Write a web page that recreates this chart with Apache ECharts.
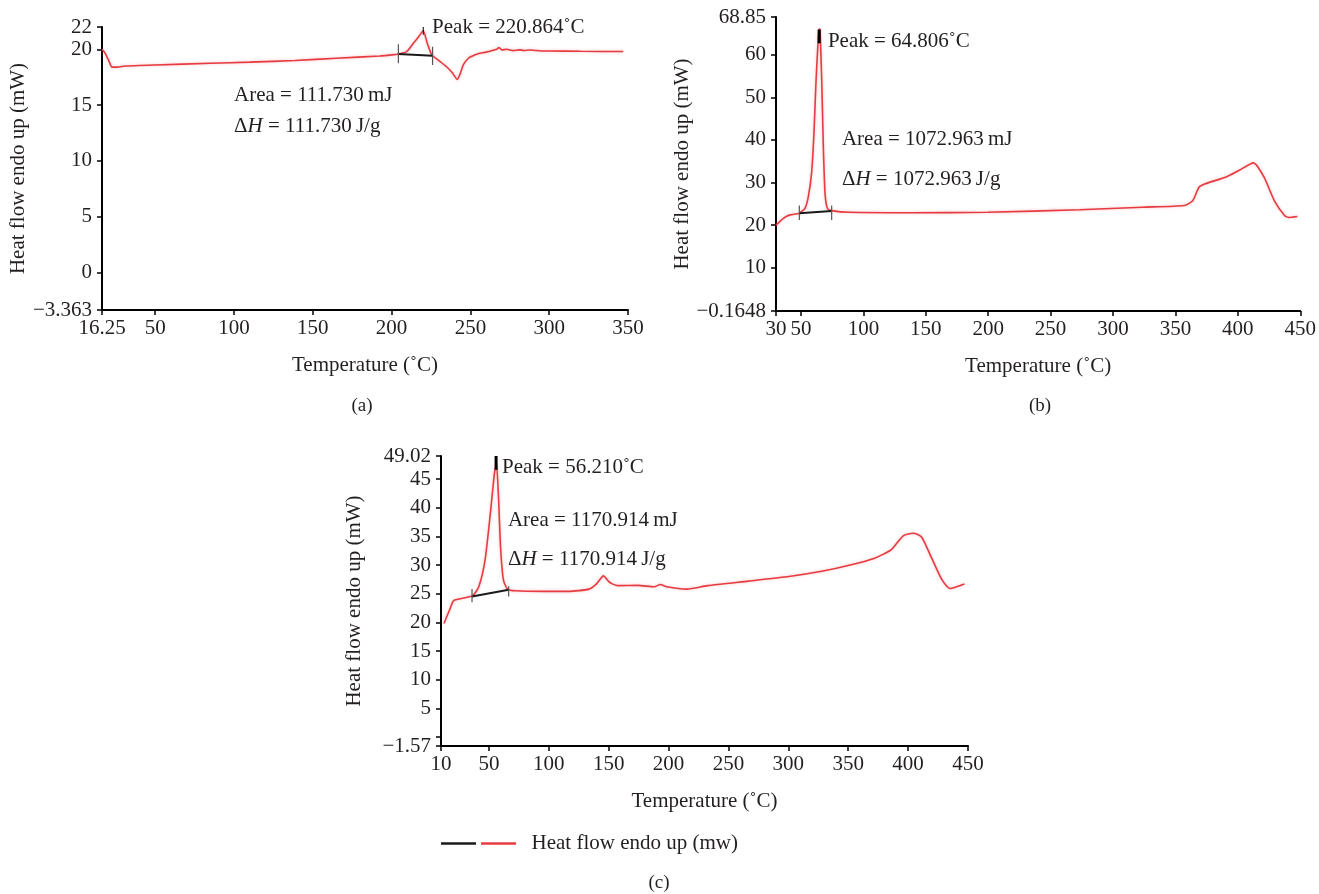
<!DOCTYPE html>
<html>
<head>
<meta charset="utf-8">
<script src="https://cdn.jsdelivr.net/npm/echarts@6/dist/echarts.min.js"></script>
<style>
html, body { margin: 0; padding: 0; background: #fff; }
#chart { width: 1319px; height: 894px; }
</style>
</head>
<body>
<div id="chart"></div>
<script>
// ---- panel (a) ----
const tempA = [16.25, 18, 20.5, 22.6, 26, 31, 50, 85, 110, 138.7, 165, 192.4, 200, 204.3, 209.6, 213.8, 217, 220.1, 222.5, 225.5, 229.6, 234.9, 238.5, 241.7, 243.5, 245.5, 248.7, 252, 256.1, 260, 263, 266.7, 268, 270, 273, 277.2, 281, 284, 287.8, 291, 296.3, 300, 320, 347]
const flowA = [20.0, 19.7, 19.0, 18.4, 18.4, 18.5, 18.6, 18.75, 18.85, 19.0, 19.2, 19.4, 19.5, 19.58, 19.8, 20.54, 21.1, 21.67, 20.6, 19.5, 19.04, 18.44, 17.9, 17.3, 17.8, 18.6, 19.2, 19.45, 19.64, 19.75, 19.85, 20.0, 20.15, 19.95, 20.0, 19.88, 19.95, 19.9, 19.94, 19.9, 19.85, 19.85, 19.82, 19.8]
const baseA = [[204.3, 19.58], [226.0, 19.43]]
const endTicksA = [[[204.3, 18.75], [204.3, 20.45]], [[226.0, 18.6], [226.0, 20.24]]]
const peakTickA = [[220.1, 21.3], [220.1, 22.0]]
const xTicksA = [16.25, 50, 100, 150, 200, 250, 300, 350]
const yTicksA = [-3.363, 0, 5, 10, 15, 20, 22]
const noteAtA = [[225.7, 22.0], [100, 15.9], [100, 13.04]]
const noteTextA = ['Peak = 220.864˚C', 'Area = 111.730\u2009mJ', '{t|Δ}{i|H}{t| = 111.730\u2009J/g}']

// ---- panel (b) ----
const tempB = [30, 35.9, 41.2, 48.7, 53.2, 55.9, 58.5, 60.4, 62.0, 63.9, 64.7, 65.3, 66.7, 68.0, 69.3, 71.2, 74.7, 88.7, 139, 199.4, 273, 323.6, 357.1, 363.8, 368.9, 373.9, 390.7, 400.7, 412.5, 420.9, 429.3, 437.6, 441, 447.7]
const flowB = [20.0, 21.6, 22.4, 22.8, 23.95, 26.7, 32.2, 41.5, 53.3, 64.2, 66.0, 65.8, 53.3, 37.6, 27.4, 23.9, 23.4, 23.0, 22.9, 23.0, 23.6, 24.2, 24.6, 25.7, 28.9, 29.7, 31.3, 32.8, 34.6, 31.3, 25.7, 22.2, 21.8, 22.0]
const baseB = [[48.7, 22.8], [74.6, 23.3]]
const endTicksB = [[[48.7, 21.2], [48.7, 24.6]], [[74.6, 21.2], [74.6, 24.6]]]
const peakTickB = [[64.6, 62.7], [64.6, 65.9]]
const xTicksB = [30, 50, 100, 150, 200, 250, 300, 350, 400, 450]
const yTicksB = [-0.1648, 10, 20, 30, 40, 50, 60, 68.85]
const noteAtB = [[71.6, 63.0], [82.8, 40.0], [82.8, 30.6]]
const noteTextB = ['Peak = 64.806˚C', 'Area = 1072.963\u2009mJ', '{t|Δ}{i|H}{t| = 1072.963\u2009J/g}']

// ---- panel (c) ----
const tempC = [12.5, 17.2, 20.6, 28, 36.6, 41.7, 46.8, 51.2, 54.6, 56.3, 58, 59.7, 62.1, 65.5, 72.3, 96.2, 116.6, 133.6, 139.8, 145.6, 150.7, 157.5, 174.5, 188.1, 193.2, 198.4, 215.4, 232.4, 266.5, 300.5, 327.8, 351.6, 372, 385.7, 395.9, 404.4, 411.2, 419.7, 428.3, 435, 440.2, 447]
const flowC = [19.8, 22.2, 23.8, 24.2, 24.65, 26.3, 30.9, 39.0, 46.0, 47.7, 41.9, 33.2, 27.4, 25.8, 25.5, 25.4, 25.4, 25.8, 26.7, 28.1, 27.0, 26.4, 26.45, 26.2, 26.6, 26.2, 25.8, 26.4, 27.2, 28.0, 28.9, 30.0, 31.2, 32.65, 35.1, 35.55, 34.9, 31.2, 27.4, 25.9, 26.2, 26.7]
const baseC = [[35.9, 24.5], [66.5, 25.7]]
const endTicksC = [[[35.9, 23.5], [35.9, 25.8]], [[66.5, 24.5], [66.5, 26.3]]]
const peakTickC = [[56.0, 46.6], [56.0, 49.0]]
const xTicksC = [10, 50, 100, 150, 200, 250, 300, 350, 400, 450]
const yTicksC = [-1.57, 0, 5, 10, 15, 20, 25, 30, 35, 40, 45, 49.02]
const yLabelsC = [-1.57, 5, 10, 15, 20, 25, 30, 35, 40, 45, 49.02]
const noteAtC = [[60.9, 47.1], [65.9, 37.7], [65.9, 31.0]]
const noteTextC = ['Peak = 56.210˚C', 'Area = 1170.914\u2009mJ', '{t|Δ}{i|H}{t| = 1170.914\u2009J/g}']

const curveName = 'Heat flow endo up (mw)'
const FONT = 'Liberation Serif, Times New Roman, serif'
const INK = '#231f20'
const RED = '#e63b40'

const zip = (xs, ys) => xs.map((x, i) => [x, ys[i]])
const fmt = v => (v < 0 ? '\u2212' + String(-v) : String(v))

const textStyle = { fontFamily: FONT, fontSize: 21, color: INK }

// 坐标轴
const xAxisOf = (gridIndex, min, max, ticks) => ({
    type: 'value', gridIndex, min, max,
    name: 'Temperature (˚C)', nameLocation: 'middle', nameGap: 45,
    nameTextStyle: textStyle,
    axisLine: { onZero: false, lineStyle: { color: '#000', width: 2 } },
    axisTick: { customValues: ticks, length: 5, lineStyle: { color: '#000', width: 1.5 } },
    axisLabel: { customValues: ticks, formatter: fmt, margin: 8, ...textStyle },
    splitLine: { show: false }
})
const yAxisOf = (gridIndex, min, max, ticks, labels, gap) => ({
    type: 'value', gridIndex, min, max,
    name: 'Heat flow endo up (mW)', nameLocation: 'middle', nameGap: gap, nameRotate: 90,
    nameTextStyle: textStyle,
    axisLine: { onZero: false, lineStyle: { color: '#000', width: 2 } },
    axisTick: { customValues: ticks, length: 5, lineStyle: { color: '#000', width: 1.5 } },
    axisLabel: { customValues: labels, formatter: fmt, margin: 10, ...textStyle },
    splitLine: { show: false }
})

// 曲线 + 标注
const curve = (idx, temps, flows, at, texts) => ({
    name: curveName, type: 'line', xAxisIndex: idx, yAxisIndex: idx,
    data: zip(temps, flows), symbol: 'none', smooth: 0.2, silent: true,
    lineStyle: { color: RED, width: 1.6, shadowColor: 'rgba(240,110,120,0.45)', shadowBlur: 3 },
    itemStyle: { color: RED },
    z: 3,
    markPoint: {
        silent: true, symbol: 'circle', symbolSize: 0,
        label: {
            show: true, position: 'right', distance: 0,
            formatter: p => p.name, ...textStyle,
            rich: {
                t: { fontFamily: FONT, fontSize: 21, color: INK },
                i: { fontFamily: FONT, fontSize: 21, color: INK, fontStyle: 'italic' }
            }
        },
        data: at.map((c, i) => ({ coord: c, name: texts[i] }))
    }
})
const seg = (idx, pts, color, width, name) => ({
    name, type: 'line', xAxisIndex: idx, yAxisIndex: idx,
    data: pts, symbol: 'none', silent: true,
    lineStyle: { color, width }, itemStyle: { color }, z: 4
})

const series = []
const panels = [
    [tempA, flowA, baseA, endTicksA, peakTickA, noteAtA, noteTextA, 1],
    [tempB, flowB, baseB, endTicksB, peakTickB, noteAtB, noteTextB, 3],
    [tempC, flowC, baseC, endTicksC, peakTickC, noteAtC, noteTextC, 3]
]
panels.forEach(([t, f, base, ends, peak, at, texts, pw], i) => {
    series.push(curve(i, t, f, at, texts))
    series.push(seg(i, base, '#1a1a1a', 2, 'baseline'))
    ends.forEach(e => series.push(seg(i, e, '#555', 1.2, 'tick')))
    series.push(seg(i, peak, '#000', pw, 'tick'))
})

const options = {
    animation: false,
    backgroundColor: '#fff',
    textStyle: { fontFamily: FONT },
    grid: [
        { left: 102, top: 27, width: 526, height: 283 },
        { left: 776, top: 17, width: 525, height: 294 },
        { left: 441, top: 456, width: 527, height: 290 }
    ],
    xAxis: [
        xAxisOf(0, 16.25, 350, xTicksA),
        xAxisOf(1, 30, 450, xTicksB),
        xAxisOf(2, 10, 450, xTicksC)
    ],
    yAxis: [
        yAxisOf(0, -3.363, 22, yTicksA, yTicksA, 70),
        yAxisOf(1, -0.1648, 68.85, yTicksB, yTicksB, 79),
        yAxisOf(2, -1.57, 49.02, yTicksC, yLabelsC, 76)
    ],
    legend: {
        left: 441, top: 833, padding: 0,
        data: [{ name: 'baseline', icon: 'rect' }, { name: curveName, icon: 'rect' }],
        itemWidth: 35, itemHeight: 2.5, itemGap: 5,
        selectedMode: false,
        formatter: name => (name === 'baseline' ? '' : '  ' + name),
        textStyle: { fontFamily: FONT, fontSize: 21, color: INK }
    },
    graphic: [
        { type: 'text', x: 362, y: 406, style: { text: '(a)', align: 'center', verticalAlign: 'middle', font: '19px ' + FONT, fill: INK } },
        { type: 'text', x: 1040, y: 406, style: { text: '(b)', align: 'center', verticalAlign: 'middle', font: '19px ' + FONT, fill: INK } },
        { type: 'text', x: 659, y: 883, style: { text: '(c)', align: 'center', verticalAlign: 'middle', font: '19px ' + FONT, fill: INK } }
    ],
    series
}

const chart = echarts.init(document.getElementById('chart'), null, { renderer: 'canvas' })
chart.setOption(options)
</script>
</body>
</html>
